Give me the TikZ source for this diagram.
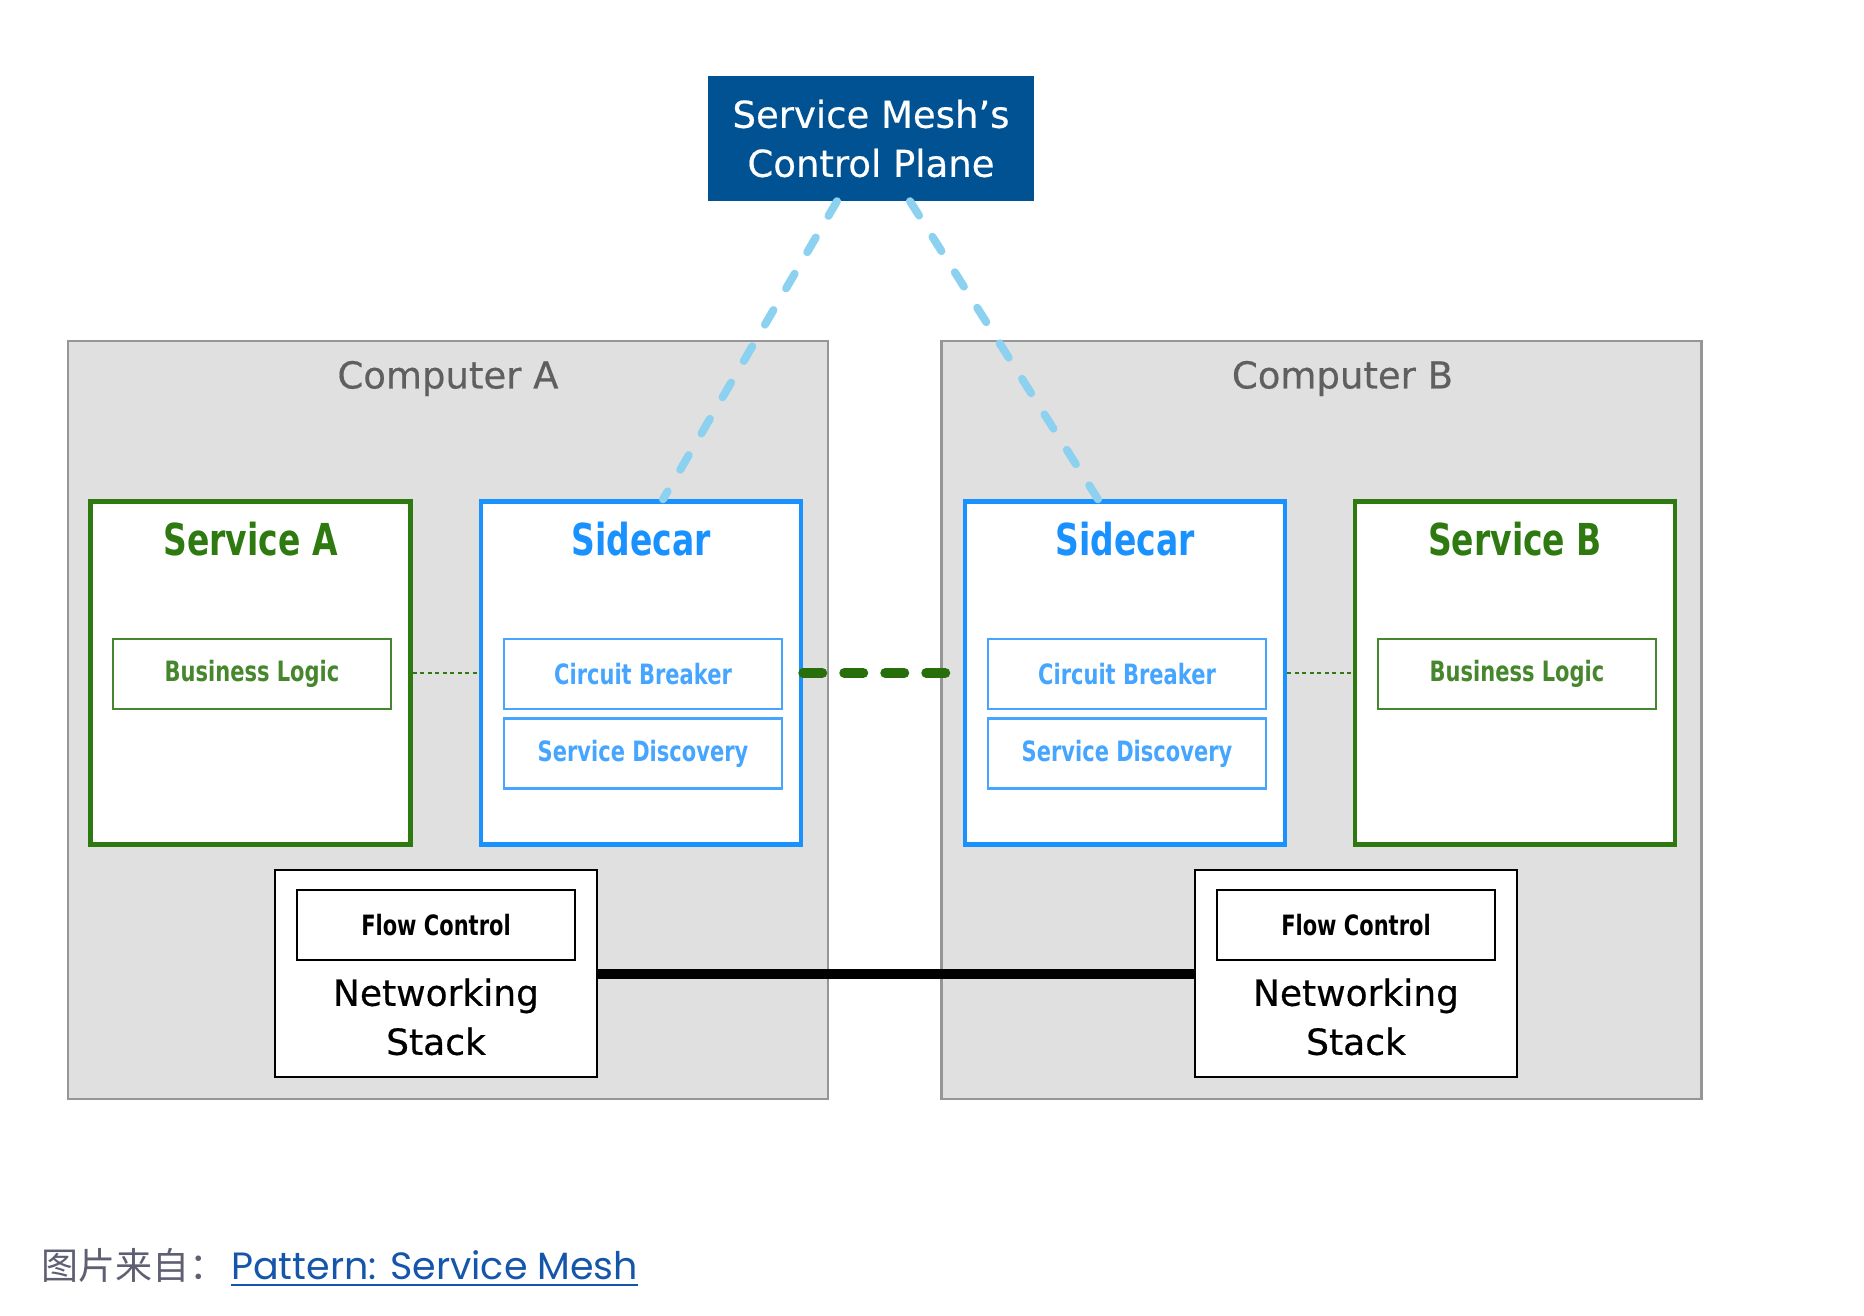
\documentclass[tikz,border=0pt]{standalone}
\usepackage{fontspec}
\setmainfont{DejaVu Sans}
\newfontfamily\plainfont[FakeBold=0.5]{DejaVu Sans}
\newfontfamily\narrowbold[FakeStretch=0.75]{DejaVu Sans Bold}
\newfontfamily\capfont{Poppins}
\newfontfamily\cjk{Noto Sans CJK SC}
\usepackage{tikz}
\usetikzlibrary{positioning}

\definecolor{planeblue}{RGB}{0,82,147}
\definecolor{meshblue}{RGB}{140,210,240}
\definecolor{boxfill}{RGB}{224,224,224}
\definecolor{boxgray}{RGB}{150,150,150}
\definecolor{labelgray}{RGB}{95,95,95}
\definecolor{svcgreen}{RGB}{46,122,16}
\definecolor{partgreen}{RGB}{70,135,45}
\definecolor{dashgreen}{RGB}{40,110,10}
\definecolor{carblue}{RGB}{25,145,255}
\definecolor{partblue}{RGB}{70,165,255}
\definecolor{capgray}{RGB}{95,95,115}
\definecolor{linkblue}{RGB}{22,86,170}

\begin{document}
\begin{tikzpicture}[x=1pt,y=-1pt,node distance=7pt,auto]

	\tikzstyle{machine}=[rectangle,draw=boxgray,fill=boxfill,line width=2.5pt,minimum width=760pt,minimum height=758pt,inner sep=0pt]
	\tikzstyle{app}=[rectangle,draw=svcgreen,fill=white,line width=4.5pt,minimum width=320pt,minimum height=343pt,inner sep=0pt]
	\tikzstyle{proxy}=[app,draw=carblue]
	\tikzstyle{stack}=[rectangle,draw=black,fill=white,line width=2.5pt,minimum width=322pt,minimum height=207pt,inner sep=0pt]
	\tikzstyle{part}=[rectangle,fill=white,line width=2.5pt,minimum width=278pt,minimum height=70pt,inner sep=0pt,font=\narrowbold\fontsize{28}{32}\selectfont]
	\tikzstyle{heading}=[inner sep=0pt,font=\narrowbold\fontsize{44}{50}\selectfont]
	\tikzstyle{plain}=[inner sep=0pt,align=center,font=\plainfont\fontsize{37}{49}\selectfont]

	\useasboundingbox (0,0) rectangle (1864,1316);

	% the two computers
	\node [machine] (compA) at (448,720) {};
	\node [machine] (compB) at (1321.5,720) {};
	\node [plain,text=labelgray,below=21pt of compA.north] (compAlbl) {Computer A};
	\node [plain,text=labelgray,below=21pt of compB.north,xshift=21pt] (compBlbl) {Computer B};

	% control plane
	\node [rectangle,fill=planeblue,minimum width=326pt,minimum height=125pt,plain,text=white] (ctrl) at (871,138.5) {Service Mesh’s\\Control Plane};

	% links between stacks
	\node [stack] (nsA) at (436,973.5) {};
	\node [stack] (nsB) at (1356,973.5) {};
	\draw [line width=10pt] (nsA) -- (nsB);
	\node [part,draw=black] (flA) [below=20pt of nsA.north] {Flow Control};
	\node [part,draw=black] (flB) [below=20pt of nsB.north] {Flow Control};
	\node [plain,font=\plainfont\fontsize{36}{49}\selectfont,below=17pt of flA] (nsAtxt) {Networking\\Stack};
	\node [plain,font=\plainfont\fontsize{36}{49}\selectfont,below=17pt of flB] (nsBtxt) {Networking\\Stack};

	% services and sidecars
	\node [app] (svcA) at (250.5,673) {};
	\node [proxy] (scA) at (641,673) {};
	\node [proxy] (scB) at (1125,673) {};
	\node [app] (svcB) at (1515,673) {};

	\node [heading,text=svcgreen,below=23pt of svcA.north] (svcAlbl) {Service A};
	\node [heading,text=carblue,below=23pt of scA.north] (scAlbl) {Sidecar};
	\node [heading,text=carblue,below=23pt of scB.north] (scBlbl) {Sidecar};
	\node [heading,text=svcgreen,below=23pt of svcB.north] (svcBlbl) {Service B};

	\node [part,draw=partgreen,text=partgreen] (blA) at (252,674) {Business Logic};
	\node [part,draw=partblue,text=partblue] (cbA) at (643,674) {Circuit Breaker};
	\node [part,draw=partblue,text=partblue] (sdA) [below=7pt of cbA] {Service Discovery};
	\node [part,draw=partblue,text=partblue] (cbB) at (1127,674) {Circuit Breaker};
	\node [part,draw=partblue,text=partblue] (sdB) [below=7pt of cbB] {Service Discovery};
	\node [part,draw=partgreen,text=partgreen] (blB) at (1517,674) {Business Logic};

	\draw [svcgreen,line width=2pt,dash pattern=on 4pt off 3.5pt] (svcA) -- (scA);
	\draw [svcgreen,line width=2pt,dash pattern=on 4pt off 3.5pt] (scB) -- (svcB);
	\draw [dashgreen,line width=10pt,line cap=round,dash pattern=on 19pt off 22pt] (scA) -- (scB);

	% control plane to sidecars
	\coordinate (ctrlL) at ([xshift=-34pt]ctrl.south);
	\coordinate (ctrlR) at ([xshift=39pt]ctrl.south);
	\coordinate (scAtop) at ([xshift=22pt]scA.north);
	\coordinate (scBtop) at ([xshift=-27pt]scB.north);
	\draw [meshblue,line width=8pt,line cap=round,dash pattern=on 17pt off 25pt] (ctrlL) -- (scAtop);
	\draw [meshblue,line width=8pt,line cap=round,dash pattern=on 17pt off 25pt] (ctrlR) -- (scBtop);

	% source
	\node [inner sep=0pt,anchor=base west,text=capgray,font=\cjk\fontsize{37}{44}\selectfont] (src) at (41,1279) {图片来自：};
	\node [inner sep=0pt,anchor=base west,text=linkblue,font=\capfont\fontsize{38}{44}\selectfont] (link) at (231,1279) {Pattern: Service Mesh};
	\draw [linkblue,line width=2.5pt] ([yshift=-6pt]link.base west) -- ([yshift=-6pt]link.base east);

\end{tikzpicture}
\end{document}
